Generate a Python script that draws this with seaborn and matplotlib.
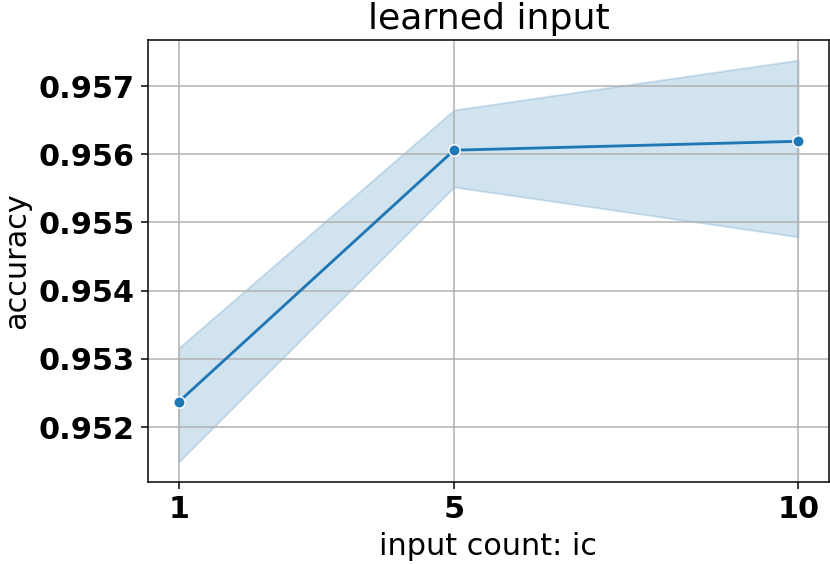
import matplotlib
matplotlib.use("Agg")
import matplotlib.pyplot as plt
import seaborn as sns
import pandas as pd

# values
input_count = [1, 5, 10]
acc_mean = [0.95237, 0.95606, 0.95619]
acc_low = [0.95149, 0.95552, 0.95479]
acc_high = [0.95316, 0.95665, 0.95738]
y_ticks = [0.952, 0.953, 0.954, 0.955, 0.956, 0.957]

df = pd.DataFrame({"input count: ic": input_count, "accuracy": acc_mean})

plt.rcParams["font.size"] = 16
fig = plt.figure(figsize=(830 / 136, 564 / 136), dpi=136)
ax = fig.add_axes([0.178, 0.1454, 0.821, 0.7836])

sns.lineplot(data=df, x="input count: ic", y="accuracy", marker="o", ax=ax)
ax.fill_between(input_count, acc_low, acc_high, color=sns.color_palette()[0], alpha=0.2)

ax.set_title("learned input")
ax.set_xticks(input_count)
ax.set_yticks(y_ticks)
ax.ticklabel_format(axis="y", useOffset=False)
for lbl in ax.get_xticklabels() + ax.get_yticklabels():
    lbl.set_fontweight("bold")
ax.grid(True)

fig.savefig("out.png", dpi=136)
